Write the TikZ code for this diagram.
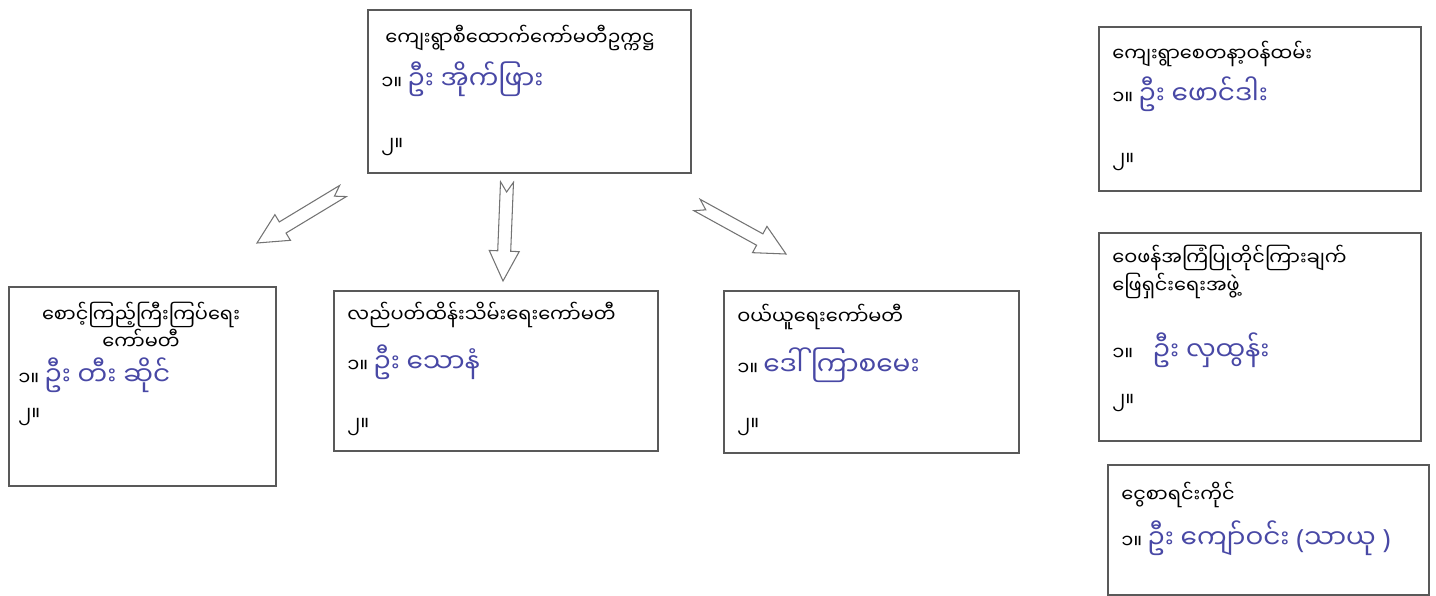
\documentclass[tikz,border=0pt]{standalone}
\usepackage{fontspec}
\newfontfamily\mmfont[Script=Myanmar]{Noto Sans Myanmar UI}
\newfontfamily\parfont{Noto Sans}
\usepackage{tikz}
\usetikzlibrary{positioning,calc}
\definecolor{ink}{RGB}{72,72,165}
\newcommand{\hw}[1]{{\color{ink}\fontsize{15}{18}\selectfont #1}}
\newcommand{\hollowarrow}[2]{%
  \draw[blockarrow] ($(#1)!0.13cm!90:(#2)$) -- ($(#2)!0.6cm!(#1)!0.13cm!90:(#2)$)
    -- ($(#2)!0.6cm!(#1)!0.3cm!90:(#2)$) -- (#2)
    -- ($(#2)!0.6cm!(#1)!0.3cm!-90:(#2)$) -- ($(#2)!0.6cm!(#1)!0.13cm!-90:(#2)$)
    -- ($(#1)!0.13cm!-90:(#2)$) -- ($(#1)!0.2cm!(#2)$) -- cycle;}
\tikzset{
  box/.style={draw=black!65, line width=1pt, anchor=north west, inner sep=0pt},
  txt/.style={anchor=west, inner sep=0pt, font=\mmfont\fontsize{11}{15.5}\selectfont},
  blockarrow/.style={draw=black!55, line width=0.6pt, fill=white, line join=miter},
}
\begin{document}
\begin{tikzpicture}[x=0.02cm, y=-0.02cm]
                \useasboundingbox (0,0) rectangle (1436,595);
                \node[box, minimum width=6.46cm, minimum height=3.26cm] (chair) at (367,9) {};
                \node[box, minimum width=5.34cm, minimum height=3.98cm] (watch) at (8,286) {};
                \node[box, minimum width=6.48cm, minimum height=3.2cm] (maint) at (333,290) {};
                \node[box, minimum width=5.9cm, minimum height=3.24cm] (buy) at (723,290) {};
                \node[box, minimum width=6.44cm, minimum height=3.28cm] (vol) at (1098,26) {};
                \node[box, minimum width=6.44cm, minimum height=4.16cm] (compl) at (1098,232) {};
                \node[box, minimum width=6.42cm, minimum height=2.6cm] (cash) at (1107,464) {};

                \node[txt] (chairT) at ($(chair.north west)+(18,29)$) {ကျေးရွာစီထောက်ကော်မတီဥက္ကဋ္ဌ};
                \node[txt] (chair1) at ($(chair.north west)+(14,70)$) {၁။ \hw{ဦး အိုက်ဖြား}};
                \node[txt] (chair2) at ($(chair.north west)+(14,138)$) {၂။};

                \node[txt, anchor=center, align=center] (watchT) at ($(watch.north west)+(133,40)$) {စောင့်ကြည့်ကြီးကြပ်ရေး\\ကော်မတီ};
                \node[txt] (watch1) at ($(watch.north west)+(10,89)$) {၁။ \hw{ဦး တီး ဆိုင်}};
                \node[txt] (watch2) at ($(watch.north west)+(10,131)$) {၂။};

                \node[txt] (maintT) at ($(maint.north west)+(14,25)$) {လည်ပတ်ထိန်းသိမ်းရေးကော်မတီ};
                \node[txt] (maint1) at ($(maint.north west)+(14,72)$) {၁။ \hw{ဦး သောနံ}};
                \node[txt] (maint2) at ($(maint.north west)+(14,137)$) {၂။};

                \node[txt] (buyT) at ($(buy.north west)+(14,27)$) {ဝယ်ယူရေးကော်မတီ};
                \node[txt] (buy1) at ($(buy.north west)+(14,75)$) {၁။ \hw{ဒေါ်ကြာစမေး}};
                \node[txt] (buy2) at ($(buy.north west)+(14,137)$) {၂။};

                \node[txt] (volT) at ($(vol.north west)+(14,28)$) {ကျေးရွာစေတနာ့ဝန်ထမ်း};
                \node[txt] (vol1) at ($(vol.north west)+(14,68)$) {၁။ \hw{ဦး ဖောင်ဒါး}};
                \node[txt] (vol2) at ($(vol.north west)+(14,136)$) {၂။};

                \node[txt, align=left] (complT) at ($(compl.north west)+(14,40)$) {ဝေဖန်အကြံပြုတိုင်ကြားချက်\\ဖြေရှင်းရေးအဖွဲ့};
                \node[txt] (compl1) at ($(compl.north west)+(14,118)$) {၁။\quad\hw{ဦး လှထွန်း}};
                \node[txt] (compl2) at ($(compl.north west)+(14,171)$) {၂။};

                \node[txt] (cashT) at ($(cash.north west)+(14,31)$) {ငွေစာရင်းကိုင်};
                \node[txt] (cash1) at ($(cash.north west)+(14,74)$) {၁။ \hw{ဦး ကျော်ဝင်း {\parfont(}သာယု {\parfont)}}};

                \coordinate (lt) at (343,191);
                \coordinate (lh) at (257,243);
                \coordinate (mt) at (507,182);
                \coordinate (mh) at (503,281);
                \coordinate (rt) at (697,205);
                \coordinate (rh) at (786,254);
                \hollowarrow{lt}{lh}
                \hollowarrow{mt}{mh}
                \hollowarrow{rt}{rh}
            \end{tikzpicture}
\end{document}
